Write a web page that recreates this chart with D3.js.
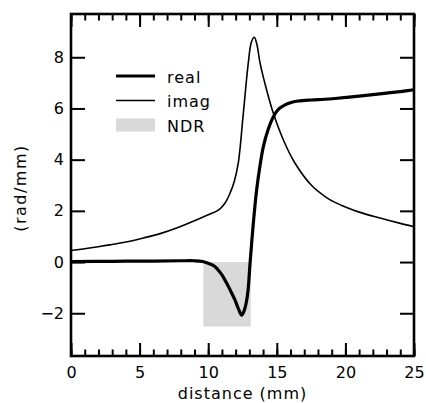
<!DOCTYPE html>
<html>
<head>
<meta charset="utf-8">
<script src="https://cdn.jsdelivr.net/npm/d3@7"></script>
<style>
  body { margin: 0; background: #fff; }
  text { font-family: "DejaVu Sans", sans-serif; fill: #000; }
</style>
</head>
<body>
<svg id="chart"></svg>
<script>
// real part of the wavenumber (rad/mm) vs distance (mm)
var realX = [0, 3, 6, 8, 9, 9.6, 10, 10.5, 11, 11.35, 11.7, 11.95, 12.2, 12.44, 12.62, 12.81, 12.92, 13.05, 13.29, 13.53, 13.8, 14.02, 14.35, 14.75, 15.15, 15.6, 16.1, 16.57, 17.5, 18.5, 19.24, 20.09, 21, 22, 23, 24, 25];
var realY = [0.02, 0.03, 0.04, 0.05, 0.05, 0.02, -0.05, -0.18, -0.5, -0.83, -1.2, -1.48, -1.82, -2.07, -1.9, -1.48, -1.02, -0.05, 1.52, 2.82, 3.85, 4.51, 5.15, 5.68, 5.98, 6.14, 6.24, 6.29, 6.33, 6.36, 6.39, 6.43, 6.48, 6.54, 6.6, 6.66, 6.73];

// imaginary part
var imagX = [0, 1, 2, 2.84, 4, 5.27, 6.5, 7.7, 9.04, 10.13, 10.74, 11.22, 11.59, 11.9, 12.19, 12.56, 12.92, 13.15, 13.36, 13.55, 13.78, 14.26, 14.75, 15.48, 16.33, 17.54, 18.6, 19.24, 20.09, 21, 22.52, 24, 25];
var imagY = [0.45, 0.52, 0.6, 0.67, 0.78, 0.94, 1.11, 1.33, 1.62, 1.88, 2.03, 2.3, 2.69, 3.15, 3.86, 5.81, 7.77, 8.6, 8.78, 8.5, 7.77, 6.72, 5.81, 4.77, 3.86, 2.99, 2.53, 2.33, 2.13, 1.95, 1.72, 1.51, 1.38];

// negative dispersion region
var ndrX = [9.65, 13.1];
var ndrY = [0, -2.52];

var xMajor = [0, 5, 10, 15, 20, 25];
var xMinor = d3.range(0, 26, 1);
var yMajor = [-2, 0, 2, 4, 6, 8];

var legendItems = ["real", "imag", "NDR"];

var margin = {top: 14, right: 12, bottom: 47, left: 71};
var width = 426 - margin.left - margin.right;
var height = 403 - margin.top - margin.bottom;

var svg = d3.select("#chart")
    .attr("width", 426)
    .attr("height", 403)
  .append("g")
    .attr("transform", "translate(" + margin.left + "," + margin.top + ")");

var x = d3.scaleLinear().domain([0, 25]).range([0, width]);
var y = d3.scaleLinear().domain([-3.67, 9.69]).range([height, 0]);

// NDR box
svg.append("rect")
    .attr("x", x(ndrX[0]))
    .attr("y", y(ndrY[0]))
    .attr("width", x(ndrX[1]) - x(ndrX[0]))
    .attr("height", y(ndrY[1]) - y(ndrY[0]))
    .attr("fill", "#d9d9d9");

var line = d3.line()
    .x((d) => x(d[0]))
    .y((d) => y(d[1]))
    .curve(d3.curveCatmullRom.alpha(0.5));

svg.append("path")
    .datum(imagX.map((v, i) => [v, imagY[i]]))
    .attr("d", line)
    .attr("fill", "none")
    .attr("stroke", "#000")
    .attr("stroke-width", 1.6);

svg.append("path")
    .datum(realX.map((v, i) => [v, realY[i]]))
    .attr("d", line)
    .attr("fill", "none")
    .attr("stroke", "#000")
    .attr("stroke-width", 3.2);

// axes, ticks pointing inward
function styleAxis(g) {
  g.select(".domain").remove();
  g.selectAll(".tick line").attr("stroke", "#000").attr("stroke-width", 2);
  g.selectAll(".tick text").style("font-size", "16px").attr("fill", "#000");
}

var fmt = (d) => d < 0 ? "\u2212" + Math.abs(d) : "" + d;

svg.append("g")
    .attr("transform", "translate(0," + height + ")")
    .call(d3.axisBottom(x).tickValues(xMinor).tickSize(-6.5).tickFormat(""))
    .call(styleAxis);
svg.append("g")
    .attr("transform", "translate(0," + height + ")")
    .call(d3.axisBottom(x).tickValues(xMajor).tickSize(-13).tickPadding(10.5).tickFormat(fmt))
    .call(styleAxis);
svg.append("g")
    .call(d3.axisTop(x).tickValues(xMinor).tickSize(-6.5).tickFormat(""))
    .call(styleAxis);
svg.append("g")
    .call(d3.axisTop(x).tickValues(xMajor).tickSize(-13).tickFormat(""))
    .call(styleAxis);
svg.append("g")
    .call(d3.axisLeft(y).tickValues(yMajor).tickSize(-14).tickPadding(7).tickFormat(fmt))
    .call(styleAxis);
svg.append("g")
    .attr("transform", "translate(" + width + ",0)")
    .call(d3.axisRight(y).tickValues(yMajor).tickSize(-14).tickFormat(""))
    .call(styleAxis);

// frame
svg.append("rect")
    .attr("width", width)
    .attr("height", height)
    .attr("fill", "none")
    .attr("stroke", "#000")
    .attr("stroke-width", 2.6);

// axis titles
svg.append("text")
    .attr("x", width / 2)
    .attr("y", height + 43)
    .attr("text-anchor", "middle")
    .style("font-size", "16px")
    .style("letter-spacing", "1px")
    .text("distance (mm)");

svg.append("text")
    .attr("transform", "translate(" + (-45) + "," + (height / 2 + 3) + ") rotate(-90)")
    .attr("text-anchor", "middle")
    .style("font-size", "16px")
    .style("letter-spacing", "1.5px")
    .text("(rad/mm)");

// legend
var legend = svg.append("g").attr("transform", "translate(45,62)");
legendItems.forEach(function(name, i) {
  var g = legend.append("g").attr("transform", "translate(0," + (i * 24.5) + ")");
  if (name === "NDR") {
    g.append("rect").attr("x", 0).attr("y", -6.5).attr("width", 39).attr("height", 13).attr("fill", "#d9d9d9");
  } else {
    g.append("line").attr("x1", 0).attr("x2", 39)
        .attr("stroke", "#000").attr("stroke-width", name === "real" ? 3.2 : 1.6);
  }
  g.append("text")
      .attr("x", 51)
      .attr("y", 6.5)
      .style("font-size", "16px")
      .style("letter-spacing", "1px")
      .text(name);
});
</script>
</body>
</html>
